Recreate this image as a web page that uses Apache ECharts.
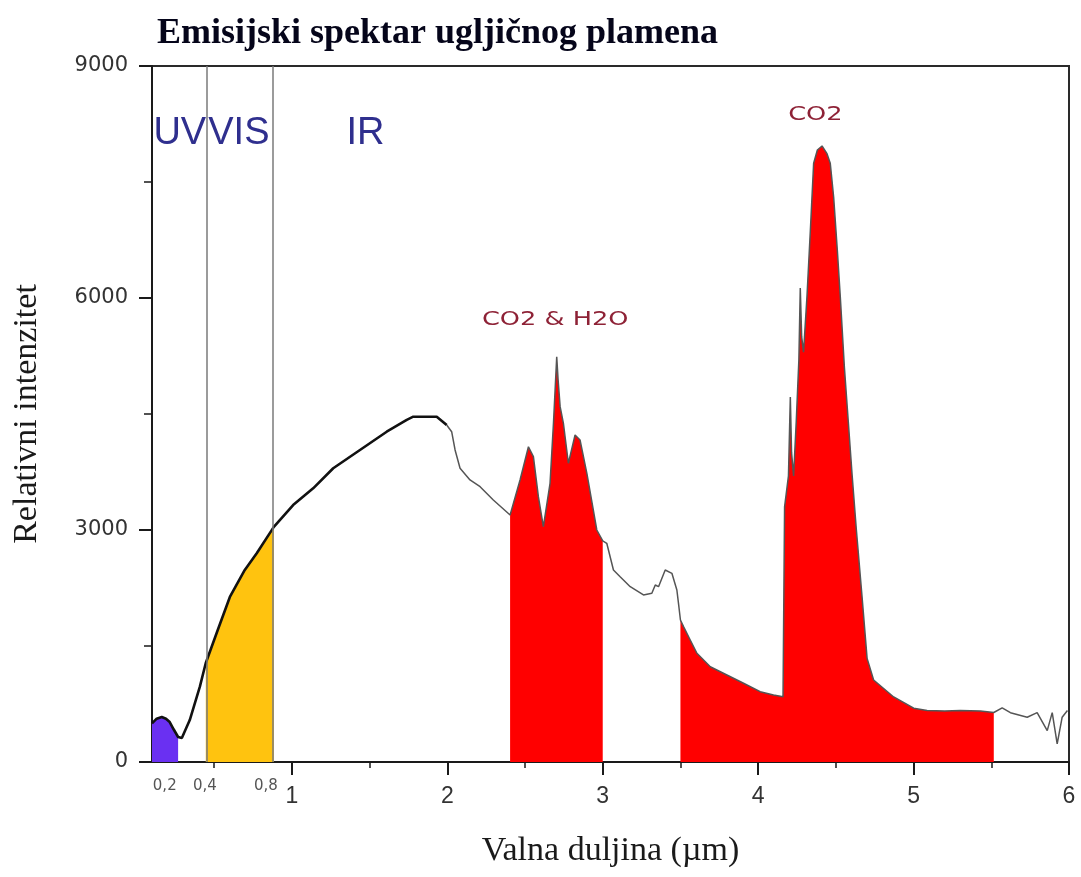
<!DOCTYPE html>
<html>
<head>
<meta charset="utf-8">
<script src="https://cdn.jsdelivr.net/npm/echarts@6/dist/echarts.min.js"></script>
<style>html,body{margin:0;padding:0;background:#fff}#c{width:1081px;height:877px}</style>
</head>
<body>
<div id="c"></div>
<script>
// ---- data ----
const wavelength = [
  0.10, 0.13, 0.163, 0.19, 0.214, 0.24, 0.268, 0.292, 0.343, 0.408, 0.446, 0.523, 0.601, 0.697, 0.775, 0.884,
  1.008, 1.137, 1.266, 1.438, 1.610, 1.739, 1.781, 1.932, 1.996, 2.028, 2.050, 2.082, 2.146, 2.211, 2.296,
  2.404, 2.468, 2.522, 2.554, 2.586, 2.618, 2.661, 2.683, 2.704, 2.713, 2.726, 2.747, 2.779, 2.822, 2.854, 2.898, 2.962, 3.000,
  3.026, 3.069, 3.112, 3.177, 3.262, 3.316, 3.338, 3.359, 3.402, 3.445, 3.477, 3.490,
  3.500, 3.520, 3.563, 3.606, 3.692, 3.799, 3.906, 4.013, 4.099, 4.160,
  4.170, 4.195, 4.207, 4.215, 4.228, 4.245, 4.262, 4.271, 4.280, 4.292, 4.314, 4.336, 4.357, 4.381, 4.411, 4.443, 4.464,
  4.486, 4.510, 4.529, 4.555, 4.580, 4.605, 4.632, 4.670, 4.701, 4.743, 4.872, 5.001, 5.087, 5.200, 5.301, 5.430, 5.516,
  5.570, 5.623, 5.731, 5.795, 5.860, 5.892, 5.924, 5.956, 5.990
];
const intensity = [
  500, 560, 582, 560, 517, 420, 323, 310, 543, 974, 1280, 1707, 2134, 2483, 2703, 3040,
  3323, 3539, 3798, 4035, 4271, 4423, 4465, 4465, 4358, 4271, 4035, 3798, 3647, 3560, 3388,
  3194, 3647, 4077, 3948, 3431, 3043, 3604, 4380, 5241, 4940, 4595, 4380, 3863, 4229, 4164, 3733, 3000, 2860,
  2828, 2483, 2396, 2267, 2160, 2182, 2289, 2267, 2483, 2440, 2224, 2008,
  1836, 1750, 1578, 1406, 1232, 1125, 1018, 909, 866, 844,
  3300, 3700, 4720, 4000, 3700, 4400, 5200, 6130, 5500, 5300, 6017, 6880, 7742, 7914, 7966, 7866, 7742,
  7300, 6600, 6000, 5100, 4400, 3700, 3000, 2100, 1340, 1060, 841, 696, 666, 660, 666, 660, 640,
  700, 638, 579, 638, 406, 638, 233, 579, 666
];
const uvBand = [0.1, 0.268];
const visBand = [0.446, 0.884];
const co2h2oBand = [2.404, 3.0];
const co2Band = [3.5, 5.516];
const blackUntil = 1.996;
const xTickValues = [1, 2, 3, 4, 5, 6];
const xMinorTickValues = [0.5, 1.5, 2.5, 3.5, 4.5, 5.5];
const regionLabels = ['UV', 'VIS', 'IR'];
const regionLabelX = [0.279, 0.659, 1.473];
const regionLabelY = 8121;
const bandLabels = ['CO2 & H2O', 'CO2'];
const bandLabelX = [2.694, 4.368];
const bandLabelY = [5716, 8367];
const edgeLabels = ['0,2', '0,4', '0,8'];
const edgeLabelX = [0.182, 0.44, 0.833];

const points = wavelength.map((x, i) => [x, intensity[i]]);
const pick = (lo, hi) => points.filter(p => p[0] >= lo - 1e-9 && p[0] <= hi + 1e-9);

function areaSeries(band, color) {
  return {
    type: 'line', data: pick(band[0], band[1]), symbol: 'none', silent: true,
    lineStyle: { width: 0 }, areaStyle: { color: color, opacity: 1 }, z: 1
  };
}

const chart = echarts.init(document.getElementById('c'), null, { renderer: 'canvas' });
chart.setOption({
  backgroundColor: '#ffffff',
  animation: false,
  title: {
    text: 'Emisijski spektar ugljičnog plamena', left: 157, top: 16, padding: 0,
    textStyle: { fontFamily: 'Liberation Serif', fontWeight: 'bold', fontSize: 36, color: '#05051a' }
  },
  grid: { left: 152, right: 12, top: 66, bottom: 115, show: true, borderColor: '#2a2a2a', borderWidth: 2 },
  xAxis: [{
    type: 'value', min: 0.1, max: 6,
    name: 'Valna duljina (µm)', nameLocation: 'middle', nameGap: 72,
    nameTextStyle: { fontFamily: 'Liberation Serif', fontSize: 34, color: '#1a1a1a' },
    axisLine: { show: true, lineStyle: { color: '#1a1a1a', width: 2 } },
    axisTick: { show: true, customValues: xTickValues, length: 13, lineStyle: { color: '#1a1a1a', width: 2 } },
    axisLabel: { show: true, customValues: xTickValues, margin: 23, fontFamily: 'Liberation Sans', fontSize: 23, color: '#333' },
    splitLine: { show: false }
  }, {
    type: 'value', min: 0.1, max: 6, position: 'bottom', offset: 0,
    axisLine: { show: false },
    axisTick: { show: true, customValues: xMinorTickValues, length: 6, lineStyle: { color: '#1a1a1a', width: 1.5 } },
    axisLabel: { show: false },
    splitLine: { show: false }
  }],
  yAxis: {
    type: 'value', min: 0, max: 9000, interval: 3000,
    name: 'Relativni intenzitet', nameLocation: 'middle', nameGap: 108, nameRotate: 90,
    nameTextStyle: { fontFamily: 'Liberation Serif', fontSize: 34, color: '#1a1a1a' },
    axisLine: { show: true, lineStyle: { color: '#1a1a1a', width: 2 } },
    axisTick: { show: true, length: 13, lineStyle: { color: '#1a1a1a', width: 2 } },
    minorTick: { show: true, splitNumber: 2, length: 8, lineStyle: { color: '#1a1a1a', width: 1.5 } },
    axisLabel: { margin: 24, fontFamily: 'DejaVu Sans', fontSize: 21, color: '#333', formatter: v => String(v) },
    splitLine: { show: false }
  },
  series: [
    areaSeries(uvBand, '#6a30f2'),
    areaSeries(visBand, '#ffc30f'),
    areaSeries(co2h2oBand, '#ff0000'),
    areaSeries(co2Band, '#ff0000'),
    {
      type: 'line', data: points.filter(p => p[0] <= blackUntil), symbol: 'none', silent: true, z: 3,
      lineStyle: { color: '#111', width: 2.6 },
      markLine: {
        silent: true, symbol: 'none', label: { show: false },
        lineStyle: { color: '#7a7a7a', width: 1.5, type: 'solid' },
        data: [{ xAxis: visBand[0] }, { xAxis: visBand[1] }]
      }
    },
    {
      type: 'line', data: points.filter(p => p[0] >= blackUntil), symbol: 'none', silent: true, z: 3,
      lineStyle: { color: '#555', width: 1.5 }
    }
  ]
});

// annotations positioned through the axes' own scales
const pix = (x, y) => chart.convertToPixel({ xAxisIndex: 0, yAxisIndex: 0 }, [x, y]);
const graphics = [];
regionLabels.forEach((t, i) => {
  const p = pix(regionLabelX[i], regionLabelY);
  graphics.push({ type: 'text', x: p[0], y: p[1], silent: true,
    style: { text: t, fill: '#2f2f8e', fontFamily: 'Liberation Sans', fontSize: 38,
      textAlign: 'center', textVerticalAlign: 'middle', align: 'center', verticalAlign: 'middle' } });
});
bandLabels.forEach((t, i) => {
  const p = pix(bandLabelX[i], bandLabelY[i]);
  graphics.push({ type: 'text', x: p[0], y: p[1], scaleX: 1.35, silent: true,
    style: { text: t, fill: '#8e2236', fontFamily: 'DejaVu Sans', fontSize: 19,
      textAlign: 'center', textVerticalAlign: 'middle', align: 'center', verticalAlign: 'middle' } });
});
edgeLabels.forEach((t, i) => {
  const p = pix(edgeLabelX[i], 0);
  graphics.push({ type: 'text', x: p[0], y: p[1] + 24, silent: true,
    style: { text: t, fill: '#555', fontFamily: 'DejaVu Sans', fontSize: 15,
      textAlign: 'center', textVerticalAlign: 'middle', align: 'center', verticalAlign: 'middle' } });
});
chart.setOption({ graphic: graphics });
</script>
</body>
</html>
